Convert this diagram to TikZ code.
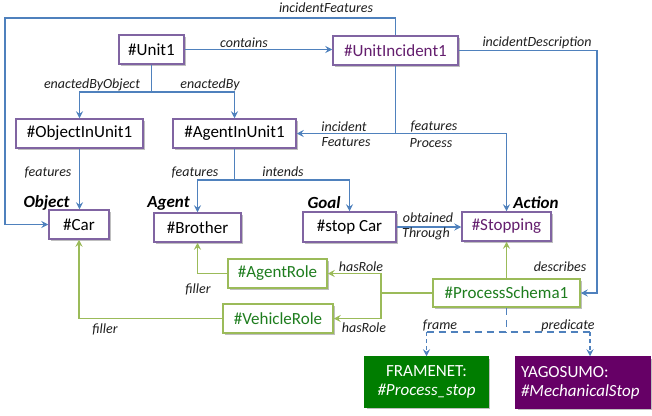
\documentclass[tikz,border=0pt]{standalone}
\usepackage{fontspec}
\setmainfont{Carlito}
\usetikzlibrary{arrows.meta,shadows}
\definecolor{bl}{RGB}{79,129,189}
\definecolor{pb}{RGB}{128,100,162}
\definecolor{gl}{RGB}{155,187,89}
\definecolor{gt}{RGB}{30,125,30}
\definecolor{pt}{RGB}{100,30,110}
\definecolor{fnfill}{RGB}{0,125,0}
\definecolor{yafill}{RGB}{102,0,102}
\definecolor{lab}{RGB}{30,30,30}
\tikzset{
  box/.style={draw, line width=1.5pt, fill=white, inner sep=0pt,
    font=\fontsize{17}{19}\selectfont,
    drop shadow={shadow xshift=1.5pt, shadow yshift=-1.5pt, opacity=0.25, fill=black}},
  pbox/.style={box, draw=pb},
  gbox/.style={box, draw=gl, text=gt},
  bline/.style={draw=bl, line width=1.3pt},
  gline/.style={draw=gl, line width=1.3pt},
  arr/.style={-{Stealth[length=7pt,width=7pt,inset=2.5pt]}},
  lbl/.style={font=\fontsize{14}{16}\selectfont\itshape, text=lab, inner sep=0pt},
  role/.style={font=\fontsize{17}{19}\selectfont\bfseries\itshape, inner sep=0pt},
}
\begin{document}
\begin{tikzpicture}[x=1pt,y=-1pt]
\useasboundingbox (0,0) rectangle (652,415);
% boxes
\node[pbox, minimum width=65, minimum height=29] (unit) at (151.5,49.5) {\#Unit1};
\node[pbox, minimum width=125, minimum height=29, text=pt] (inc) at (395.5,50.5) {\#UnitIncident1};
\node[pbox, minimum width=127, minimum height=29] (obj) at (79.5,133.5) {\#ObjectInUnit1};
\node[pbox, minimum width=123, minimum height=29] (agent) at (234.5,133.5) {\#AgentInUnit1};
\node[pbox, minimum width=60, minimum height=29] (car) at (79,224.5) {\#Car};
\node[pbox, minimum width=87, minimum height=29] (brother) at (197.5,227.5) {\#Brother};
\node[pbox, minimum width=93, minimum height=30] (stopcar) at (349.5,227) {\#stop Car};
\node[pbox, minimum width=89, minimum height=29, text=pt] (stopping) at (506.5,226.5) {\#Stopping};
\node[gbox, minimum width=99, minimum height=29] (agentrole) at (277.5,273.5) {\#AgentRole};
\node[gbox, minimum width=110, minimum height=29] (vehrole) at (278,318.5) {\#VehicleRole};
\node[gbox, minimum width=147, minimum height=28] (ps) at (506.5,293) {\#ProcessSchema1};
\node[box, draw=fnfill, fill=fnfill, text=white, minimum width=123, minimum height=50, align=center] (fn) at (426.5,382) {FRAMENET:\\\itshape \#Process\_stop};
\node[box, draw=yafill, fill=yafill, text=white, minimum width=134, minimum height=51, align=left, text width=124] (yago) at (583,382.5) {YAGOSUMO:\\\itshape \#MechanicalStop};
% role labels
\node[role] (lobj) at (46.5,203) {Object};
\node[role] (lagent) at (168.5,203) {Agent};
\node[role] (lgoal) at (324,203) {Goal};
\node[role] (laction) at (536,203) {Action};
% blue connectors
\coordinate (cif) at (5,18);
\draw[bline,arr] (inc.north) |- (cif) |- (car.west);
\draw[bline,arr] (unit.east) -- (unit.east -| inc.west);
\coordinate (j1) at (151.5,92);
\draw[bline] (unit.south) -- (j1);
\draw[bline,arr] (j1) -| (obj.north);
\draw[bline,arr] (j1) -| (agent.north);
\draw[bline,arr] (obj.south) -- (obj.south |- car.north);
\coordinate (j2) at (234.5,180);
\draw[bline] (agent.south) -- (j2);
\draw[bline,arr] (j2) -| (brother.north);
\draw[bline,arr] (j2) -| (stopcar.north);
\coordinate (j3) at (395.5,133.5);
\draw[bline] (inc.south) -- (j3);
\draw[bline,arr] (j3) -- (agent.east);
\draw[bline,arr] (j3) -| (stopping.north);
\coordinate (cd) at (597,50.5);
\draw[bline,arr] (inc.east) -- (cd) |- (ps.east);
\draw[bline,arr] (stopcar.east) -- (stopcar.east -| stopping.west);
% green connectors
\draw[gline,arr] (ps.north) -- (ps.north |- stopping.south);
\coordinate (j4) at (381,293);
\draw[gline] (ps.west) -- (j4);
\draw[gline,arr] (j4) |- (agentrole.east);
\draw[gline,arr] (j4) |- (vehrole.east);
\draw[gline,arr] (agentrole.west) -| (brother.south);
\draw[gline,arr] (vehrole.west) -| (car.south);
% dashed connectors
\coordinate (j5) at (506.5,332);
\coordinate (dl) at (426.5,332);
\coordinate (dr) at (590,332);
\draw[bline,dashed,dash pattern=on 7pt off 5pt] (ps.south) -- (j5);
\draw[bline,dashed,dash pattern=on 7pt off 5pt] (dl) -- (dr);
\draw[bline,dashed,dash pattern=on 4pt off 3pt,arr] (dl) -- (fn.north);
\draw[bline,dashed,dash pattern=on 4pt off 3pt,arr] (dr) -- (dr |- yago.north);
% labels
\node[lbl] at (326,8) {incidentFeatures};
\node[lbl] at (244,43) {contains};
\node[lbl] at (92,85) {enactedByObject};
\node[lbl] at (210,85) {enactedBy};
\node[lbl] at (48,173) {features};
\node[lbl] at (195,173) {features};
\node[lbl] at (283,172) {intends};
\node[lbl] at (344,127) {incident};
\node[lbl] at (346,142) {Features};
\node[lbl] at (434,127) {features};
\node[lbl] at (431,143) {Process};
\node[lbl] at (537,43) {incidentDescription};
\node[lbl] at (428,218) {obtained};
\node[lbl] at (426,234) {Through};
\node[lbl] at (560,267) {describes};
\node[lbl] at (361,267) {hasRole};
\node[lbl] at (364,328) {hasRole};
\node[lbl] at (198,289) {filler};
\node[lbl] at (105,329) {filler};
\node[lbl] at (440,326) {frame};
\node[lbl] at (568,326) {predicate};
\end{tikzpicture}
\end{document}
